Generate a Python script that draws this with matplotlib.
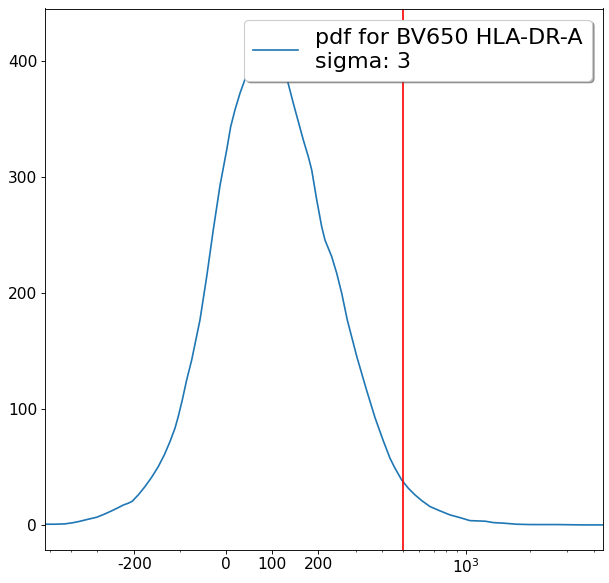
import matplotlib.pyplot as plt
from matplotlib.ticker import FixedLocator, FixedFormatter

# density curve (x in raw channel units, symlog axis)
x_vals = [-528, -474, -425, -395, -368, -330, -301, -275, -256, -238,
          -225, -213.4, -204.5, -191.3, -176.8, -162.2, -147.8, -134.8, -122.4, -111.5,
          -104.4, -95.6, -86.1, -75.2, -57.2, -42.6, -28.3, -13.7, 0.9, 9.6,
          18.9, 29.8, 42.8, 55, 65, 75, 85, 95, 103, 110,
          117, 125, 132.6, 145.7, 167.4, 178.3, 185.7, 196.6, 207.5, 215,
          231.4, 244.3, 258, 274.1, 304, 336, 371, 404, 436, 460.4,
          495, 532.4, 572, 615.5, 674, 751, 838, 932.8, 1040, 1226,
          1341, 1500, 1729, 1998, 2670, 3566, 4418]
pdf_vals = [0.6, 0.6, 0.9, 1.7, 2.8, 4.9, 6.6, 9.5, 12.1, 14.9,
            17.2, 18.7, 20.4, 25.9, 33.0, 41.1, 50.3, 60.3, 71.8, 83.4,
            93.4, 107.8, 125.0, 142.2, 176.7, 214.0, 254.3, 292.5, 323.3, 343.4,
            357.8, 372.2, 386.5, 396.0, 405.0, 413.0, 419.0, 422.5, 424.0, 421.0,
            412.0, 397.0, 383.6, 363.5, 331.9, 317.5, 306.0, 280.2, 257.2, 245.7,
            231.3, 217.0, 199.7, 176.7, 145.1, 117.8, 92.2, 73.3, 57.5, 48.9,
            38.8, 31.6, 25.9, 21.0, 15.8, 12.1, 8.6, 6.3, 3.7, 3.2,
            2.0, 1.5, 0.6, 0.3, 0.3, 0.0, 0.0]

threshold = 500
label = "pdf for BV650 HLA-DR-A\nsigma: 3"

major_ticks = [-200, 0, 100, 200, 1000]
major_labels = ["-200", "0", "100", "200", "$10^3$"]
minor_ticks = [-500, -400, -300, -100, 300, 400, 500, 600, 700, 800, 900,
               2000, 3000, 4000]

fig = plt.figure(figsize=(609 / 80, 583 / 80), dpi=80)
ax = fig.add_axes([45 / 609, 33.5 / 583, 558 / 609, 541 / 583])

ax.plot(x_vals, pdf_vals, label=label)
ax.axvline(threshold, color="r")

ax.set_xscale("symlog", linthresh=200, linscale=0.391)
ax.set_xlim(-528, 4420)
ax.xaxis.set_major_locator(FixedLocator(major_ticks))
ax.xaxis.set_major_formatter(FixedFormatter(major_labels))
ax.xaxis.set_minor_locator(FixedLocator(minor_ticks))
ax.tick_params(labelsize=14)

ax.legend(loc="upper right", fontsize=20, shadow=True)

fig.savefig("out.png", dpi=80)
